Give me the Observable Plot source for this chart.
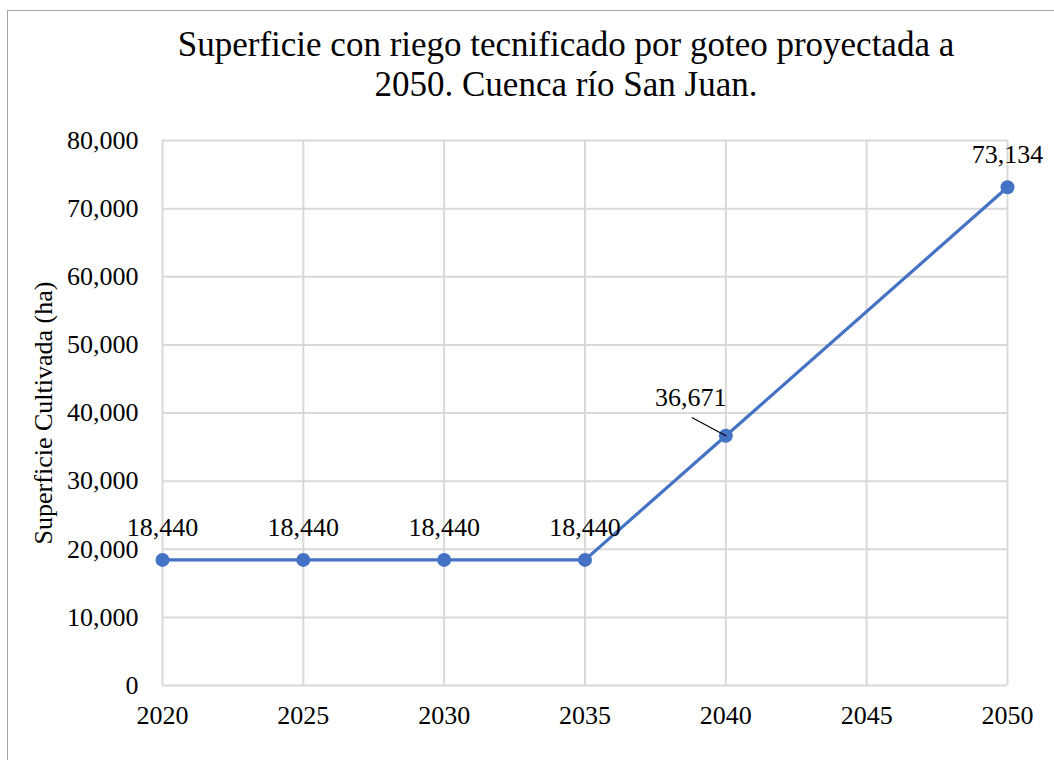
<!DOCTYPE html>
<html>
<head>
<meta charset="utf-8">
<script src="https://cdn.jsdelivr.net/npm/d3@7"></script>
<script src="https://cdn.jsdelivr.net/npm/@observablehq/plot@0.6"></script>
<style>
  html, body { margin: 0; padding: 0; background: #fff; }
  #wrap { position: relative; width: 1054px; height: 760px; overflow: hidden; font-family: "Liberation Serif", "Times New Roman", serif; }
  #frame { position: absolute; left: 7px; top: 10px; width: 1100px; height: 800px; border: 1.5px solid #a6a6a6; }
  #title { position: absolute; left: 66px; top: 25px; width: 1000px; text-align: center; font-size: 35px; line-height: 40px; color: #000; }
  #chart { position: absolute; left: 0; top: 110px; }
</style>
</head>
<body>
<div id="wrap">
  <div id="frame"></div>
  <div id="title">Superficie con riego tecnificado por goteo proyectada a<br>2050. Cuenca río San Juan.</div>
  <div id="chart"></div>
</div>
<script>
const years = [2020, 2025, 2030, 2035, 2040, 2050];
const values = [18440, 18440, 18440, 18440, 36671, 73134];
const xTicks = [2020, 2025, 2030, 2035, 2040, 2045, 2050];
const yTicks = [0, 10000, 20000, 30000, 40000, 50000, 60000, 70000, 80000];
const yLabel = "Superficie Cultivada (ha)";
const calloutYear = 2040;

const data = years.map((year, i) => ({year, value: values[i]}));
const fmt = d3.format(",");
const blue = "#4472C4";
const grid = "#d9d9d9";

const chart = Plot.plot({
  width: 1054,
  height: 650,
  marginTop: 30,
  marginBottom: 75,
  marginLeft: 162,
  marginRight: 47,
  style: { fontFamily: "'Liberation Serif', 'Times New Roman', serif", fontSize: "26px", color: "#000", background: "transparent" },
  x: { domain: [2020, 2050] },
  y: { domain: [0, 80000] },
  marks: [
    Plot.gridX(xTicks, { stroke: grid, strokeOpacity: 1, strokeWidth: 2 }),
    Plot.gridY(yTicks, { stroke: grid, strokeOpacity: 1, strokeWidth: 2 }),
    Plot.axisX(xTicks, { tickSize: 0, tickPadding: 20, tickFormat: d => String(d), label: null, fontSize: 26 }),
    Plot.axisY(yTicks, { tickSize: 0, tickPadding: 24, tickFormat: fmt, label: yLabel, labelAnchor: "center", labelArrow: "none", labelOffset: 129, fontSize: 26 }),
    Plot.line(data, { x: "year", y: "value", stroke: blue, strokeWidth: 3.2 }),
    Plot.dot(data, { x: "year", y: "value", r: 7, fill: blue, stroke: "none" }),
    Plot.vector(data.filter(d => d.year === calloutYear), { x: "year", y: "value", anchor: "start", length: 38, rotate: -62, shape: "spike", r: 0, stroke: "#000", fill: "none", strokeWidth: 1.2 }),
    Plot.text(data.filter(d => d.year !== calloutYear), { x: "year", y: "value", text: d => fmt(d.value), lineAnchor: "bottom", dy: -24, fontSize: 26, fill: "#000" }),
    Plot.text(data.filter(d => d.year === calloutYear), { x: "year", y: "value", text: d => fmt(d.value), lineAnchor: "bottom", dx: -35, dy: -30, fontSize: 26, fill: "#000" })
  ]
});
document.getElementById("chart").appendChild(chart);
</script>
</body>
</html>
